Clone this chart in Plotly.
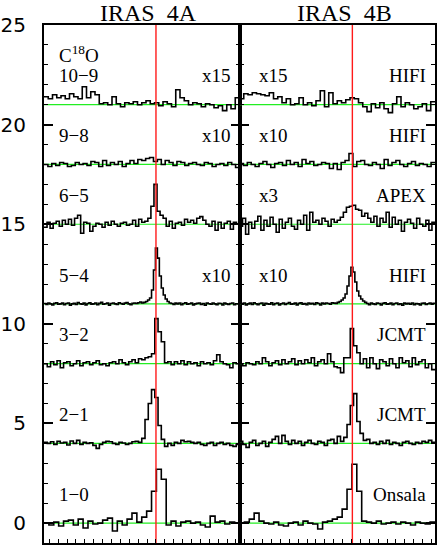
import plotly.graph_objects as go

# velocity window of both panels (km/s) and source velocities
VMIN, VMAX = -5.6, 16.4
VLSR_4A = 7.0
VLSR_4B = 7.1

transitions = ["1−0", "2−1", "3−2", "5−4", "6−5", "9−8", "10−9"]
offsets = [0, 4, 8, 11, 15, 18, 21]
scale_4a = ["", "", "", "x10", "", "x10", "x15"]
scale_4b = ["", "", "", "x10", "x3", "x10", "x15"]
telescopes = ["Onsala", "JCMT", "JCMT", "HIFI", "APEX", "HIFI", "HIFI"]

# IRAS 4A spectra (T_mb, baseline removed)
a_10 = [0.0, -0.1, 0.05, -0.15, 0.1, 0.15, -0.1, 0.2, -0.25, 0.1,
        -0.05, 0.0, 0.15, 0.25, -0.4, 0.1, -0.1, 0.2, 0.5, 0.05,
        0.3, 0.6, 1.6, 2.7, 2.2, -0.1, 0.1, -0.15, 0.05, 0.1,
        0.0, 0.05, -0.1, -0.2, 0.35, 0.05, 0.1, -0.05, 0.05, 0.0]
a_21 = [0.05, 0.0, 0.08, -0.05, 0.1, 0.02, 0.05, -0.08, 0.12, 0.0,
        0.15, -0.05, 0.05, 0.0, 0.03, -0.1, -0.25, -0.05, 0.05, 0.1,
        0.08, 0.0, -0.05, 0.05, 0.02, -0.05, 0.0, 0.08, 0.1, 0.05,
        0.25, 1.2, 2.0, 2.7, 2.3, 0.9, 0.2, -0.15, 0.0, -0.1,
        0.05, 0.0, 0.15, 0.08, 0.1, 0.05, 0.0, 0.05, -0.05, -0.1,
        0.0, 0.05, -0.1, 0.0, 0.05, -0.05, 0.0, -0.1, -0.15, -0.05]
a_32 = [0.0, -0.15, 0.1, -0.05, 0.15, -0.2, 0.05, 0.1, -0.1, 0.0,
        0.15, -0.1, 0.05, 0.1, -0.05, 0.05, 0.15, -0.05, 0.0, -0.1,
        0.05, 0.1, 0.0, 0.2, 0.05, -0.05, 0.1, 0.2, 0.05, 0.25,
        0.2, 0.3, 0.35, 0.5, 2.26, 1.6, 1.1, 0.05, 0.1, -0.05,
        0.1, 0.0, 0.15, -0.05, 0.1, 0.0, 0.05, -0.1, 0.1, 0.0,
        0.05, -0.05, 0.15, 0.45, 0.1, 0.0, -0.05, -0.2, 0.05, 0.0]
a_54 = [0.02, -0.03, 0.05, 0.0, -0.05, 0.03, 0.06, -0.02, 0.0, 0.04,
        -0.04, 0.02, 0.05, -0.06, 0.0, 0.03, -0.03, 0.07, 0.01, -0.02,
        0.04, -0.05, 0.02, 0.06, -0.01, 0.0, 0.05, -0.04, 0.03, 0.08,
        -0.02, 0.01, 0.04, -0.06, 0.02, 0.05, 0.0, -0.03, 0.06, 0.02,
        -0.02, 0.04, 0.07, 0.0, -0.04, 0.03, 0.05, 0.02, 0.06, 0.1,
        0.05, 0.08, 0.12, 0.2, 0.3, 0.7, 1.7, 2.8, 2.3, 1.4,
        0.8, 0.45, 0.25, 0.12, 0.05, 0.02, -0.03, 0.04, 0.0, 0.05,
        -0.04, 0.02, 0.06, -0.02, 0.01, 0.04, -0.05, 0.0, 0.03, 0.05,
        -0.03, 0.02, -0.06, 0.04, 0.01, -0.02, 0.05, 0.0, -0.04, 0.03,
        0.02, -0.05, 0.04, 0.0, -0.03, 0.02, 0.05, -0.04, 0.01, 0.0]
a_65 = [-0.15, 0.1, -0.2, 0.05, 0.15, -0.1, 0.2, 0.0, 0.25, -0.05,
        0.3, 0.45, -0.45, 0.1, 0.05, -0.35, -0.1, 0.05, 0.0, -0.15,
        0.1, -0.05, 0.15, 0.0, -0.1, 0.05, 0.1, -0.05, 0.0, 0.2,
        -0.1, 0.25, 0.1, 0.15, 0.3, 0.9, 2.0, 0.65, 0.45, 0.3,
        -0.1, 0.15, -0.2, 0.05, 0.1, -0.05, 0.25, 0.1, 0.2, 0.05,
        0.3, 0.38, 0.2, 0.0, -0.1, 0.15, -0.3, 0.1, -0.2, 0.05,
        0.15, -0.25, 0.1, 0.0]
a_98 = [0.0, -0.1, 0.05, -0.05, 0.1, 0.05, -0.1, -0.05, 0.1, 0.0,
        0.05, -0.05, 0.15, 0.1, -0.1, 0.2, -0.05, 0.1, 0.0, 0.15,
        -0.1, 0.05, 0.2, 0.05, 0.25, 0.2, 0.3, 0.35, 0.15, 0.25,
        0.0, 0.2, 0.1, -0.05, 0.15, 0.1, -0.05, 0.05, 0.1, 0.0,
        -0.05, 0.1, 0.05, -0.1, 0.0, 0.05, -0.05, 0.1, 0.0, -0.15]
a_109 = [0.4, 0.3, 0.5, 0.35, 0.45, 0.3, 0.55, 0.4, 0.3, 0.9,
         0.35, 0.65, 0.5, 0.05, 0.1, 0.0, 0.4, 0.05, -0.1, 0.1,
         0.05, 0.15, 0.0, 0.1, 0.2, 0.05, 0.1, -0.05, 0.15, 0.05,
         -0.1, 0.75, 0.35, 0.2, 0.0, 0.1, 0.05, -0.1, 0.05, 0.0,
         -0.15, -0.05, -0.3, 0.0, -0.2, 0.35]

# IRAS 4B spectra
b_10 = [0.0, 0.05, 0.2, 0.5, 0.1, 0.0, -0.05, 0.05, -0.1, -0.15,
        0.0, 0.05, -0.1, 0.1, 0.0, -0.05, -0.3, 0.05, 0.1, 0.2,
        0.3, 0.7, 1.7, 2.95, 1.6, 0.1, 0.05, 0.0, 0.1, -0.05,
        0.0, 0.05, -0.05, 0.05, 0.0, -0.1, 0.05, 0.0, -0.05, 0.05]
b_21 = [0.1, -0.05, -0.2, 0.05, 0.15, -0.1, 0.0, 0.1, -0.15, 0.05,
        0.2, 0.35, 0.0, 0.4, 0.1, -0.05, 0.15, 0.0, 0.1, -0.1,
        0.05, 0.15, 0.0, -0.05, 0.1, 0.05, -0.1, 0.15, 0.2, 0.0,
        0.35, 0.1, 0.3, 0.95, 1.9, 2.5, 1.1, 0.5, 0.15, 0.2,
        0.0, 0.05, -0.05, 0.1, 0.0, 0.15, -0.05, 0.05, 0.0, -0.1,
        0.05, 0.1, 0.0, -0.05, 0.05, 0.0, 0.1, 0.05, 0.15, 0.05]
b_32 = [0.0, -0.1, 0.05, 0.0, -0.05, 0.1, 0.0, 0.3, 0.1, -0.1,
        0.05, 0.15, -0.05, 0.2, 0.0, 0.1, 0.25, -0.05, 0.15, 0.0,
        0.2, 0.05, 0.3, -0.1, 0.1, 0.2, 0.0, 0.5, 0.1, -0.15,
        -0.2, -0.45, 0.3, 0.3, 1.76, 0.9, 0.55, 0.0, 0.25, -0.2,
        0.3, 0.0, -0.25, 0.2, 0.1, -0.1, 0.25, 0.0, -0.2, 0.3,
        0.05, 0.15, -0.15, 0.3, -0.05, 0.1, 0.2, -0.2, 0.0, -0.3]
b_54 = [0.03, -0.02, 0.05, -0.05, 0.0, 0.04, -0.03, 0.06, 0.01, -0.04,
        0.02, 0.05, -0.06, 0.03, 0.0, -0.02, 0.06, -0.04, 0.02, 0.04,
        -0.05, 0.01, 0.05, -0.03, 0.02, 0.07, -0.02, 0.0, 0.04, -0.05,
        0.03, 0.06, -0.01, 0.02, -0.04, 0.05, 0.0, 0.03, -0.03, 0.06,
        0.02, -0.05, 0.04, 0.0, 0.05, 0.02, -0.02, 0.06, 0.04, 0.03,
        0.08, 0.12, 0.2, 0.3, 0.5, 0.9, 1.4, 1.84, 1.6, 1.1,
        0.65, 0.4, 0.25, 0.15, 0.08, 0.02, -0.04, 0.05, 0.0, -0.03,
        0.04, 0.02, -0.05, 0.03, 0.06, -0.02, 0.0, 0.04, -0.04, 0.02,
        0.05, -0.03, 0.01, -0.06, 0.04, 0.0, 0.03, -0.02, 0.05, -0.04,
        0.02, 0.0, -0.05, 0.03, 0.04, -0.03, 0.01, 0.05, -0.02, 0.03]
b_65 = [-0.1, 0.3, -0.5, 0.1, -0.2, 0.15, 0.4, -0.3, 0.2, -0.1,
        0.35, 0.0, -0.4, 0.25, -0.2, 0.1, 0.3, -0.1, -0.25, 0.2,
        0.0, 0.45, -0.3, 0.6, 0.1, 0.2, 0.0, 0.3, 0.15, -0.1,
        0.25, 0.1, 0.2, 0.35, 0.6, 0.85, 0.9, 0.95, 0.75, 0.7,
        0.4, 0.55, 0.3, 0.1, 0.4, -0.1, 0.3, 0.1, 0.6, -0.15,
        0.35, 0.0, 0.2, -0.35, 0.1, 0.25, 0.05, -0.2, 0.3, 0.0,
        -0.1, 0.2, -0.3, 0.1]
b_98 = [0.05, -0.05, 0.1, 0.0, -0.1, 0.05, 0.15, 0.0, -0.15, 0.05,
        0.1, -0.05, 0.2, 0.0, 0.1, -0.1, 0.25, 0.05, 0.15, -0.05,
        0.0, 0.1, 0.05, -0.2, 0.05, -0.25, 0.1, 0.2, 0.55, -0.1,
        0.15, 0.2, 0.0, -0.05, 0.1, 0.0, -0.2, 0.25, -0.05, 0.1,
        0.2, 0.0, -0.1, 0.05, 0.15, -0.05, 0.05, 0.0, -0.1, 0.1]
b_109 = [0.3, 0.55, 0.5, 0.6, 0.55, 0.5, 0.45, 0.6, 0.3, 0.4,
         0.1, 0.3, 0.0, 0.05, 0.35, 0.0, 0.1, -0.05, 0.2, 0.7,
         -0.1, 0.6, 0.05, 0.2, 0.1, 0.25, 0.35, 0.3, 0.1, -0.1,
         -0.35, 0.05, -0.15, 0.1, -0.2, -0.4, 0.05, 0.4, -0.1, 0.1,
         0.0, -0.2, -0.1, 0.05, -0.3, 0.15]

spectra_4a = [a_10, a_21, a_32, a_54, a_65, a_98, a_109]
spectra_4b = [b_10, b_21, b_32, b_54, b_65, b_98, b_109]

SERIF = "Liberation Serif"


def steps(vals, off):
    dv = (VMAX - VMIN) / len(vals)
    x = [VMIN + dv * i for i in range(len(vals) + 1)]
    y = [v + off for v in vals] + [vals[-1] + off]
    return x, y


fig = go.Figure()

for col, (spectra, vlsr) in enumerate([(spectra_4a, VLSR_4A), (spectra_4b, VLSR_4B)]):
    xa = "x" if col == 0 else "x2"
    ya = "y" if col == 0 else "y2"
    for vals, off in zip(spectra, offsets):
        fig.add_trace(go.Scatter(x=[VMIN, VMAX], y=[off, off], mode="lines",
                                 line=dict(color="#22ee22", width=1.2),
                                 xaxis=xa, yaxis=ya, hoverinfo="skip"))
        x, y = steps(vals, off)
        fig.add_trace(go.Scatter(x=x, y=y, mode="lines", line_shape="hv",
                                 line=dict(color="black", width=1.6),
                                 xaxis=xa, yaxis=ya))
    fig.add_trace(go.Scatter(x=[vlsr, vlsr], y=[-1, 25], mode="lines",
                             line=dict(color="#ff1a1a", width=1.4),
                             xaxis=xa, yaxis=ya, hoverinfo="skip"))

ann = []
lab_font = dict(family=SERIF, size=19, color="black")
for name, off, s_a, s_b, tel in zip(transitions, offsets, scale_4a, scale_4b, telescopes):
    ly = off + 1.45
    ann.append(dict(text=name, x=0.065, y=ly, xref="x domain", yref="y",
                    xanchor="left", showarrow=False, font=lab_font))
    if s_a:
        ann.append(dict(text=s_a, x=0.965, y=ly, xref="x domain", yref="y",
                        xanchor="right", showarrow=False, font=lab_font))
    if s_b:
        ann.append(dict(text=s_b, x=0.09, y=ly, xref="x2 domain", yref="y2",
                        xanchor="left", showarrow=False, font=lab_font))
    ann.append(dict(text=tel, x=0.965, y=ly, xref="x2 domain", yref="y2",
                    xanchor="right", showarrow=False, font=lab_font))
ann.append(dict(text="C<sup>18</sup>O", x=0.065, y=23.55, xref="x domain", yref="y",
                xanchor="left", showarrow=False, font=lab_font))
title_font = dict(family=SERIF, size=24, color="black")
ann.append(dict(text="IRAS  4A", x=0.267, y=1.0, xref="paper", yref="paper",
                xanchor="center", yanchor="bottom", yshift=-3, showarrow=False,
                font=title_font))
ann.append(dict(text="IRAS  4B", x=0.768, y=1.0, xref="paper", yref="paper",
                xanchor="center", yanchor="bottom", yshift=-3, showarrow=False,
                font=title_font))

xcommon = dict(range=[VMIN, VMAX], showgrid=False, zeroline=False,
               showline=True, linecolor="black", linewidth=2, mirror=True,
               ticks="inside", ticklen=4, tickwidth=1.2, tickcolor="black",
               tick0=0, dtick=1, showticklabels=False)
ycommon = dict(range=[-1, 25], showgrid=False, zeroline=False,
               showline=True, linecolor="black", linewidth=2, mirror="ticks",
               ticks="inside", ticklen=9, tickwidth=1.5, tickcolor="black",
               tick0=0, dtick=5,
               minor=dict(ticks="inside", ticklen=4, dtick=1, tickwidth=1.2,
                          tickcolor="black"))

fig.update_layout(
    width=438, height=545,
    margin=dict(l=41, r=1, t=25, b=2),
    plot_bgcolor="white", paper_bgcolor="white",
    showlegend=False,
    xaxis=dict(domain=[0, 0.5], anchor="y", **xcommon),
    xaxis2=dict(domain=[0.5, 1], anchor="y2", **xcommon),
    yaxis=dict(anchor="x", tickfont=dict(family="DejaVu Sans", size=20, color="black"),
               ticklabelstandoff=12, **ycommon),
    yaxis2=dict(anchor="x2", matches="y", showticklabels=False, **ycommon),
    annotations=ann,
)

# drop the default page margin so the 438x545 figure fills the window
fig.write_html("out.html", config={"displayModeBar": False},
               post_script="document.body.style.margin='0';")
